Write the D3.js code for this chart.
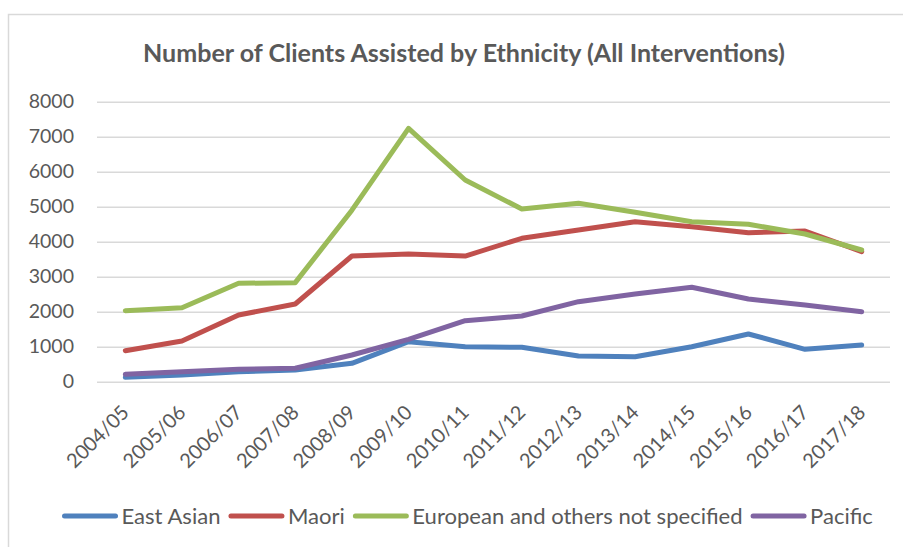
<!DOCTYPE html>
<html>
<head>
<meta charset="utf-8">
<script src="https://cdn.jsdelivr.net/npm/d3@7"></script>
<style>
  html, body { margin: 0; padding: 0; background: #fff; }
  svg { display: block; }
</style>
</head>
<body>
<svg id="chart" width="903" height="547"></svg>
<script>
const title = "Number of Clients Assisted by Ethnicity (All Interventions)";
const categories = ["2004/05","2005/06","2006/07","2007/08","2008/09","2009/10","2010/11","2011/12","2012/13","2013/14","2014/15","2015/16","2016/17","2017/18"];
const seriesNames = ["East Asian","Maori","European and others not specified","Pacific"];
const seriesColors = ["#4F81BD","#C0504D","#9BBB59","#8064A2"];
const eastAsian = [126,191,286,334,526,1143,1000,983,734,714,1000,1363,926,1049];
const maori     = [886,1163,1906,2220,3591,3649,3591,4097,4334,4571,4429,4257,4306,3714];
const european  = [2030,2114,2811,2830,4900,7240,5763,4934,5097,4840,4571,4497,4220,3763];
const pacific   = [211,286,354,383,763,1211,1743,1877,2286,2506,2697,2363,2191,2000];
const yTicks = [0,1000,2000,3000,4000,5000,6000,7000,8000];

const seriesValues = [eastAsian, maori, european, pacific];
const FONT = "Lato, 'Open Sans', sans-serif";
const TEXT = "#595959";

const svg = d3.select("#chart");

// chart frame
svg.append("rect").attr("x", 8.5).attr("y", 14.5).attr("width", 1000).attr("height", 1000)
  .attr("fill", "none").attr("stroke", "#D9D9D9").attr("stroke-width", 1.5);

const plot = { left: 97, right: 890, top: 101.7, bottom: 381.7 };
const x = d3.scaleBand().domain(categories).range([plot.left, plot.right]);
const y = d3.scaleLinear().domain([0, 8000]).range([plot.bottom, plot.top]);
const xc = d => x(d) + x.bandwidth() / 2;

// title
const t = svg.append("text").text(title)
  .attr("x", 464).attr("y", 62).attr("text-anchor", "middle")
  .attr("font-family", FONT).attr("font-weight", "bold").attr("font-size", 22)
  .attr("fill", TEXT);
const tw = t.node().getComputedTextLength();
t.attr("font-size", 22 * 642 / tw);

// gridlines + y labels
const yAxis = d3.axisLeft(y).tickValues(yTicks).tickSize(-(plot.right - plot.left)).tickPadding(23).tickFormat(d3.format("d"));
const gy = svg.append("g").attr("transform", `translate(${plot.left},0)`).call(yAxis);
gy.select(".domain").remove();
gy.selectAll(".tick line").attr("stroke", "#D9D9D9").attr("stroke-width", 1.5);
gy.selectAll(".tick text").attr("font-family", FONT).attr("font-size", 19.5).attr("fill", TEXT);

// x axis labels
const xAxis = d3.axisBottom(x).tickSize(0).tickFormat(d => d);
const gx = svg.append("g").attr("transform", `translate(0,${plot.bottom})`).call(xAxis);
gx.select(".domain").remove();
gx.selectAll(".tick text")
  .attr("font-family", FONT).attr("font-size", 20).attr("fill", TEXT)
  .attr("text-anchor", "end").attr("dy", null).attr("y", 0)
  .attr("transform", "translate(5,32) rotate(-45)");

// lines
const line = d3.line().x((d, i) => xc(categories[i])).y(d => y(d));
seriesValues.forEach((vals, si) => {
  svg.append("path").datum(vals)
    .attr("d", line)
    .attr("fill", "none").attr("stroke", seriesColors[si])
    .attr("stroke-width", 5).attr("stroke-linejoin", "round").attr("stroke-linecap", "round");
});

// legend
const lg = svg.append("g");
const legY = 516;
const lineLen = 56, gapText = 3.5, gapItem = 8;
const legTexts = [];
const legLines = [];
seriesNames.forEach((name, i) => {
  legLines.push(lg.append("line").attr("y1", legY).attr("y2", legY)
    .attr("stroke", seriesColors[i]).attr("stroke-width", 5).attr("stroke-linecap", "round"));
  legTexts.push(lg.append("text").text(name).attr("y", legY)
    .attr("dy", "0.35em").attr("font-family", FONT).attr("font-size", 20).attr("fill", TEXT));
});
const textW = d3.sum(legTexts, tx => tx.node().getComputedTextLength());
const targetSpan = 873 - 62;
const fixedW = seriesNames.length * (lineLen + gapText) + (seriesNames.length - 1) * gapItem;
const fs = 20 * (targetSpan - fixedW) / textW;
legTexts.forEach(tx => tx.attr("font-size", fs));
let cx = 62;
seriesNames.forEach((name, i) => {
  legLines[i].attr("x1", cx + 2.5).attr("x2", cx + lineLen - 2.5);
  legTexts[i].attr("x", cx + lineLen + gapText);
  cx += lineLen + gapText + legTexts[i].node().getComputedTextLength() + gapItem;
});
</script>
</body>
</html>
